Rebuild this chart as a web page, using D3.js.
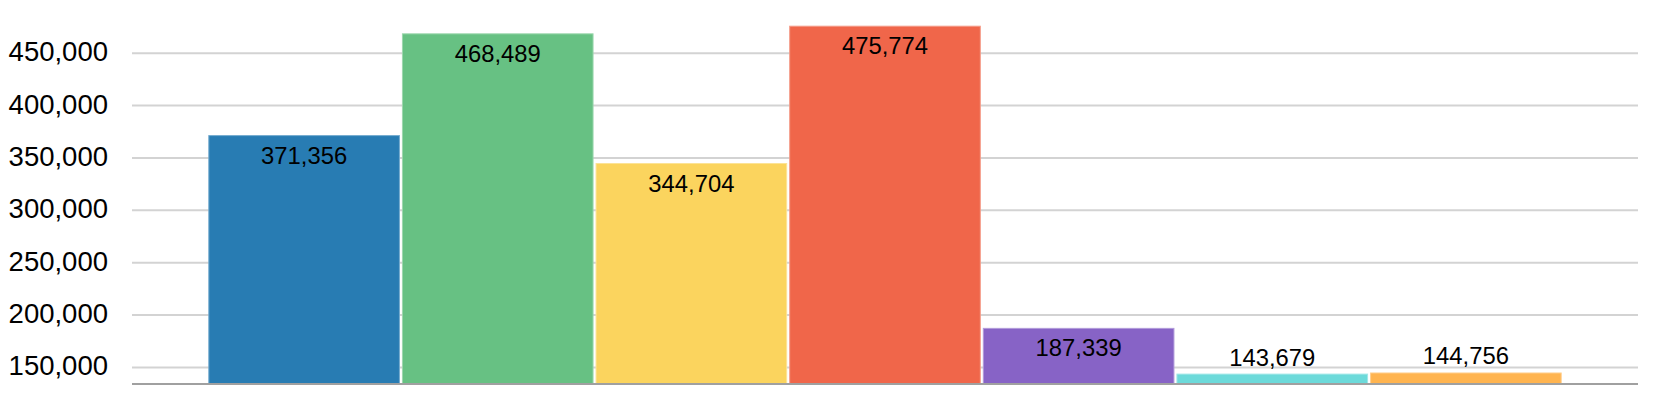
<!DOCTYPE html>
<html>
<head>
<meta charset="utf-8">
<script src="https://cdn.jsdelivr.net/npm/d3@7"></script>
<style>
  html, body { margin: 0; padding: 0; background: #ffffff; }
  svg { display: block; }
  text { font-family: "Liberation Sans", Arial, sans-serif; }
</style>
</head>
<body>
<svg id="chart" width="1658" height="398"></svg>
<script>
const categories = ["Total"];
const series = ["Series 1", "Series 2", "Series 3", "Series 4", "Series 5", "Series 6", "Series 7"];
const values = [371356, 468489, 344704, 475774, 187339, 143679, 144756];
const colors = ["#287cb3", "#67c183", "#fbd45e", "#f0664a", "#8763c6", "#6cdada", "#ffb44f"];
const yTicks = [150000, 200000, 250000, 300000, 350000, 400000, 450000];
const yDomain = [133760, 500300];

const svg = d3.select("#chart");
const margin = { left: 132, right: 20, top: 0, bottom: 14 };
const W = 1658, H = 398;
const plotL = margin.left, plotR = W - margin.right, plotT = margin.top, plotB = H - margin.bottom;

const y = d3.scaleLinear().domain(yDomain).range([plotB, plotT]);
const x0 = d3.scaleBand().domain(categories).range([plotL, plotR]).paddingInner(0.1).paddingOuter(0.05);
const x1 = d3.scaleBand().domain(series).range([0, x0.bandwidth()]).padding(0);

const fmt = d3.format(",");

// gridlines
const grid = svg.append("g")
  .attr("transform", `translate(${plotL},0)`)
  .call(d3.axisLeft(y).tickValues(yTicks).tickSize(-(plotR - plotL)).tickFormat(""));
grid.select(".domain").remove();
grid.selectAll(".tick line").attr("stroke", "#d3d3d3").attr("stroke-width", 2);

// y labels
const yAxis = svg.append("g")
  .attr("transform", `translate(${plotL},0)`)
  .call(d3.axisLeft(y).tickValues(yTicks).tickSize(0).tickPadding(24).tickFormat(fmt));
yAxis.select(".domain").remove();
yAxis.selectAll(".tick text")
  .attr("font-size", "27.5px")
  .attr("fill", "#000")
  .attr("dy", "0.29em")
  .style("font-family", "'Liberation Sans', Arial, sans-serif");

// bars
const data = series.map((s, i) => ({ cat: categories[0], s, v: values[i], c: colors[i] }));
const gBars = svg.append("g");
gBars.selectAll("rect")
  .data(data)
  .join("rect")
  .attr("x", d => x0(d.cat) + x1(d.s) + 1.5)
  .attr("y", d => y(d.v) + 0.5)
  .attr("width", x1.bandwidth() - 3)
  .attr("height", d => y(yDomain[0]) - y(d.v) - 0.5)
  .attr("fill", d => d.c)
  .attr("stroke", d => d3.interpolateRgb(d.c, "#ffffff")(0.35))
  .attr("stroke-width", 1);

// baseline
svg.append("line")
  .attr("x1", plotL).attr("x2", plotR)
  .attr("y1", y(yDomain[0])).attr("y2", y(yDomain[0]))
  .attr("stroke", "#a0a0a0").attr("stroke-width", 2);

// value labels
gBars.selectAll("text")
  .data(data)
  .join("text")
  .attr("x", d => x0(d.cat) + x1(d.s) + x1.bandwidth() / 2)
  .attr("y", d => {
    const h = y(yDomain[0]) - y(d.v);
    return h > 36 ? y(d.v) + 28.5 : y(d.v) - 8;
  })
  .attr("text-anchor", "middle")
  .attr("font-size", "23.8px")
  .attr("fill", "#000")
  .text(d => fmt(d.v));
</script>
</body>
</html>
